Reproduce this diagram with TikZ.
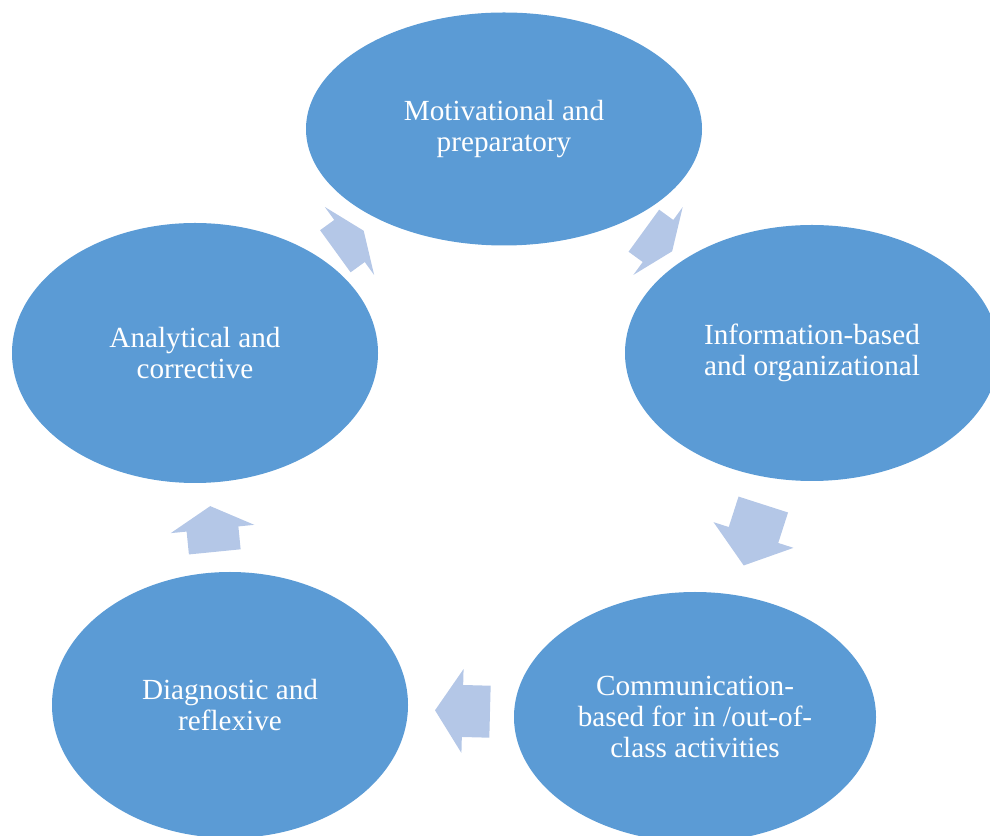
\documentclass[tikz,border=0pt]{standalone}
\usepackage{fontspec}
\setmainfont{Liberation Serif}
\usetikzlibrary{shapes.geometric, calc}

\definecolor{stageblue}{HTML}{5B9BD5}
\definecolor{arrowblue}{HTML}{B4C7E7}

\begin{document}
\begin{tikzpicture}[
    x=0.5pt, y=0.5pt,
    stage/.style={ellipse, fill=stageblue, inner sep=0pt, align=center, text=white, font=\fontsize{14.6}{15.5}\selectfont},
    cyclearrow/.pic={\fill[arrowblue] (-#1,-26) -- (0,-26) -- (0,-42) -- (#1,0) -- (0,42) -- (0,26) -- (-#1,26) -- cycle;}
]
\useasboundingbox (0,0) rectangle (990,835);

% ----------------------------------------------------
% Stages of the cycle
% ----------------------------------------------------
\node[stage, minimum width=198pt, minimum height=116.5pt] (Mot) at (504,706) {Motivational and\\preparatory};
\node[stage, minimum width=187pt, minimum height=128pt] (Info) at (812,482) {Information-based\\and organizational};
\node[stage, minimum width=181pt, minimum height=125pt] (Comm) at (695,118) {Communication-\\based for in /out-of-\\class activities};
\node[stage, minimum width=178pt, minimum height=133pt] (Diag) at (230,130) {Diagnostic and\\reflexive};
\node[stage, minimum width=183pt, minimum height=130pt] (Ana) at (195,482) {Analytical and\\corrective};

% ----------------------------------------------------
% Block arrows between stages (clockwise)
% ----------------------------------------------------
\path (Mot.center) -- pic[midway, sloped, allow upside down]{cyclearrow=17.5} (Info.center);
\path (Info.center) -- pic[midway, sloped, allow upside down]{cyclearrow=32} (Comm.center);
\path (Comm.center) -- pic[midway, sloped, allow upside down]{cyclearrow=27.5} (Diag.center);
\path (Diag.center) -- pic[midway, sloped, allow upside down]{cyclearrow=23} (Ana.center);
\path (Ana.center) -- pic[midway, sloped, allow upside down]{cyclearrow=17.5} (Mot.center);

\end{tikzpicture}
\end{document}
